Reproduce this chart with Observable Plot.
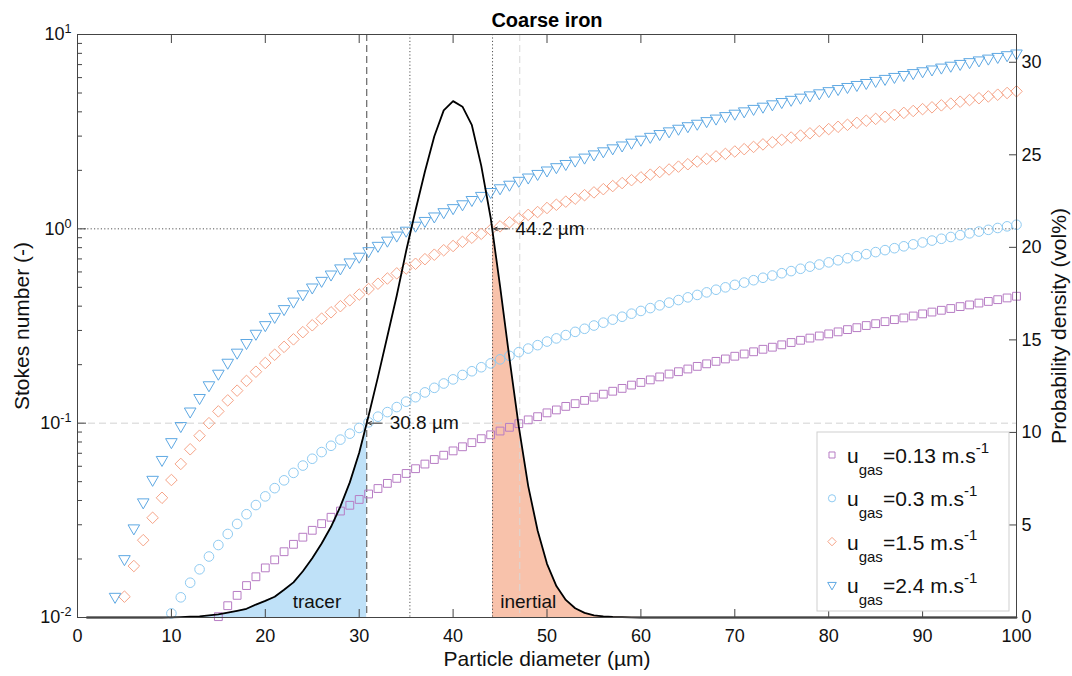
<!DOCTYPE html>
<html>
<head>
<meta charset="utf-8">
<script src="https://cdn.jsdelivr.net/npm/d3@7"></script>
<script src="https://cdn.jsdelivr.net/npm/@observablehq/plot@0.6"></script>
<style>
  html, body { margin: 0; padding: 0; background: #fff; }
  #chart { width: 1072px; height: 676px; }
</style>
</head>
<body>
<div id="chart"></div>
<script>
// ---------- data ----------
const titleText = "Coarse iron";
const xLabel = "Particle diameter (µm)";
const yLabelLeft = "Stokes number (-)";
const yLabelRight = "Probability density (vol%)";

// particle diameters of the size distribution (µm), 1..100
const diameters = d3.range(1, 101);
// probability density (vol%) at each diameter
const density = [
  0, 0, 0, 0, 0, 0, 0, 0, 0, 0.01,
  0.02, 0.04, 0.06, 0.11, 0.17, 0.26, 0.36, 0.47, 0.7, 0.9,
  1.12, 1.5, 1.9, 2.5, 3.2, 4.0, 4.9, 6.0, 7.3, 8.9,
  10.9, 13.0, 15.2, 17.4, 19.8, 22.0, 24.1, 26.0, 27.4, 27.9,
  27.6, 26.6, 24.4, 21.6, 17.9, 14.0, 10.3, 7.1, 4.7, 2.9,
  1.7, 0.95, 0.5, 0.25, 0.12, 0.06, 0.03, 0.015, 0.01, 0,
  0, 0, 0, 0, 0, 0, 0, 0, 0, 0,
  0, 0, 0, 0, 0, 0, 0, 0, 0, 0,
  0, 0, 0, 0, 0, 0, 0, 0, 0, 0,
  0, 0, 0, 0, 0, 0, 0, 0, 0, 0
];

// Stokes numbers, one marker per µm, starting at the given diameter
const startU013 = 15;
const stU013 = [
  0.0101, 0.0115, 0.013, 0.0146, 0.0162, 0.018, 0.0198, 0.0218, 0.0238, 0.0259,
  0.0281, 0.0304, 0.0328, 0.0353, 0.0378, 0.0405, 0.0432, 0.0461, 0.049, 0.052,
  0.0551, 0.0583, 0.0616, 0.065, 0.0684, 0.072, 0.0756, 0.0794, 0.0832, 0.0871,
  0.0911, 0.0952, 0.0994, 0.104, 0.108, 0.113, 0.117, 0.122, 0.126, 0.131,
  0.136, 0.141, 0.146, 0.151, 0.157, 0.162, 0.167, 0.173, 0.179, 0.184,
  0.19, 0.196, 0.202, 0.208, 0.214, 0.221, 0.227, 0.233, 0.24, 0.246,
  0.253, 0.26, 0.267, 0.274, 0.281, 0.288, 0.295, 0.303, 0.31, 0.318,
  0.325, 0.333, 0.341, 0.348, 0.356, 0.365, 0.373, 0.381, 0.389, 0.398,
  0.406, 0.415, 0.423, 0.432, 0.441, 0.45
];
const startU03 = 10;
const stU03 = [
  0.0105, 0.0127, 0.0151, 0.0177, 0.0206, 0.0236, 0.0269, 0.0303, 0.034, 0.0379,
  0.042, 0.0463, 0.0508, 0.0555, 0.0605, 0.0656, 0.071, 0.0765, 0.0823, 0.0883,
  0.0945, 0.101, 0.108, 0.114, 0.121, 0.129, 0.136, 0.144, 0.152, 0.16,
  0.168, 0.177, 0.185, 0.194, 0.203, 0.213, 0.222, 0.232, 0.242, 0.252,
  0.263, 0.273, 0.284, 0.295, 0.306, 0.318, 0.329, 0.341, 0.353, 0.366,
  0.378, 0.391, 0.404, 0.417, 0.43, 0.444, 0.457, 0.471, 0.486, 0.5,
  0.515, 0.529, 0.544, 0.56, 0.575, 0.591, 0.606, 0.623, 0.639, 0.655,
  0.672, 0.689, 0.706, 0.723, 0.741, 0.759, 0.777, 0.795, 0.813, 0.832,
  0.851, 0.87, 0.889, 0.908, 0.928, 0.948, 0.968, 0.988, 1.01, 1.03,
  1.05
];
const startU15 = 5;
const stU15 = [
  0.0128, 0.0184, 0.025, 0.0326, 0.0413, 0.051, 0.0617, 0.0734, 0.0862, 0.1,
  0.115, 0.131, 0.147, 0.165, 0.184, 0.204, 0.225, 0.247, 0.27, 0.294,
  0.319, 0.345, 0.372, 0.4, 0.429, 0.459, 0.49, 0.522, 0.555, 0.59,
  0.625, 0.661, 0.698, 0.736, 0.776, 0.816, 0.857, 0.9, 0.943, 0.987,
  1.03, 1.08, 1.13, 1.18, 1.22, 1.28, 1.33, 1.38, 1.43, 1.49,
  1.54, 1.6, 1.66, 1.72, 1.78, 1.84, 1.9, 1.96, 2.02, 2.09,
  2.15, 2.22, 2.29, 2.36, 2.43, 2.5, 2.57, 2.64, 2.72, 2.79,
  2.87, 2.95, 3.02, 3.1, 3.18, 3.26, 3.35, 3.43, 3.51, 3.6,
  3.68, 3.77, 3.86, 3.95, 4.04, 4.13, 4.22, 4.32, 4.41, 4.51,
  4.6, 4.7, 4.8, 4.9, 5.0, 5.1
];
const startU24 = 4;
const stU24 = [
  0.0128, 0.02, 0.0288, 0.0392, 0.0512, 0.0648, 0.08, 0.0968, 0.115, 0.135,
  0.157, 0.18, 0.205, 0.231, 0.259, 0.289, 0.32, 0.353, 0.387, 0.423,
  0.461, 0.5, 0.541, 0.583, 0.627, 0.673, 0.72, 0.769, 0.819, 0.871,
  0.925, 0.98, 1.04, 1.10, 1.16, 1.22, 1.28, 1.34, 1.41, 1.48,
  1.55, 1.62, 1.69, 1.77, 1.84, 1.92, 2.0, 2.08, 2.16, 2.25,
  2.33, 2.42, 2.51, 2.60, 2.69, 2.78, 2.88, 2.98, 3.08, 3.18,
  3.28, 3.38, 3.48, 3.59, 3.70, 3.81, 3.92, 4.03, 4.15, 4.26,
  4.38, 4.5, 4.62, 4.74, 4.87, 4.99, 5.12, 5.25, 5.38, 5.51,
  5.64, 5.78, 5.92, 6.06, 6.20, 6.34, 6.48, 6.62, 6.77, 6.92,
  7.07, 7.22, 7.37, 7.53, 7.68, 7.84, 8.0
];

const seriesLabels = ["0.13", "0.3", "1.5", "2.4"];

// threshold diameters (µm) and reference Stokes numbers
const tracerCut = 30.8;
const inertialCut = 44.2;
const triangleCrossing = 35.4;
const squareCrossing = 47.1;
const annotX = [30.8, 44.2];
const annotY = [0.1, 1];
const annotText = ["30.8 µm", "44.2 µm"];
const regionLabels = ["tracer", "inertial"];
const regionX = [25.5, 48.0];

// ticks
const xTicks = [0, 10, 20, 30, 40, 50, 60, 70, 80, 90, 100];
const yMajor = [0.01, 0.1, 1, 10];
const yMinor = [0.02, 0.03, 0.04, 0.05, 0.06, 0.07, 0.08, 0.09,
                0.2, 0.3, 0.4, 0.5, 0.6, 0.7, 0.8, 0.9,
                2, 3, 4, 5, 6, 7, 8, 9];
const densTicks = [0, 5, 10, 15, 20, 25, 30];
const densMax = 31.5;

// ---------- helpers ----------
const densToY = p => Math.pow(10, -2 + 3 * p / densMax);

const curve = diameters.map((d, i) => ({d, p: density[i], y: densToY(density[i])}));
function densAt(x) {
  for (let i = 0; i < diameters.length - 1; i++) {
    if (diameters[i] <= x && x <= diameters[i + 1]) {
      const t = (x - diameters[i]) / (diameters[i + 1] - diameters[i]);
      return density[i] + t * (density[i + 1] - density[i]);
    }
  }
  return 0;
}
const tracerArea = curve.filter(c => c.d < tracerCut)
  .concat([{d: tracerCut, y: densToY(densAt(tracerCut))}]);
const inertialArea = [{d: inertialCut, y: densToY(densAt(inertialCut))}]
  .concat(curve.filter(c => c.d > inertialCut));

const mk = (start, vals) => vals.map((v, i) => ({d: start + i, st: v}));
const sSquare = mk(startU013, stU013);
const sCircle = mk(startU03, stU03);
const sDiamond = mk(startU15, stU15);
const sTriangle = mk(startU24, stU24);

const annots = annotX.map((x, i) => ({x, y: annotY[i], label: annotText[i]}));
const regions = regionLabels.map((t, i) => ({x: regionX[i], t}));

const colSquare = "#b77cc4";
const colCircle = "#8fcbf2";
const colDiamond = "#f6a488";
const colTriangle = "#5ea8e3";
const fillTracer = "#bfe1f8";
const fillInertial = "#f8c2ab";
const font = "'Liberation Sans', Arial, Helvetica, sans-serif";

const plot = Plot.plot({
  width: 1072,
  height: 676,
  marginLeft: 77,
  marginRight: 56,
  marginTop: 34,
  marginBottom: 59,
  style: {fontFamily: font, fontSize: "18px", background: "#fff", color: "#111"},
  x: {domain: [0, 100]},
  y: {type: "log", domain: [0.01, 10]},
  marks: [
    // shaded regions under the size distribution
    Plot.areaY(tracerArea, {x: "d", y1: 0.01, y2: "y", fill: fillTracer}),
    Plot.areaY(inertialArea, {x: "d", y1: 0.01, y2: "y", fill: fillInertial}),
    // reference lines
    Plot.ruleY([0.1], {stroke: "#d2d2d2", strokeDasharray: "7,4", strokeWidth: 1}),
    Plot.ruleY([1], {stroke: "#555", strokeDasharray: "1.2,2.2", strokeWidth: 1}),
    Plot.ruleX([squareCrossing], {stroke: "#d8d8d8", strokeDasharray: "7,4", strokeWidth: 1}),
    Plot.ruleX([tracerCut], {stroke: "#666", strokeDasharray: "7,4", strokeWidth: 1.2}),
    Plot.ruleX([triangleCrossing, inertialCut], {stroke: "#555", strokeDasharray: "1.2,2.2", strokeWidth: 1}),
    // Stokes number series
    Plot.dot(sSquare, {x: "d", y: "st", symbol: "square", r: 4.4, stroke: colSquare, strokeWidth: 1, fill: "none"}),
    Plot.dot(sCircle, {x: "d", y: "st", symbol: "circle", r: 4.8, stroke: colCircle, strokeWidth: 1, fill: "none"}),
    Plot.dot(sDiamond, {x: "d", y: "st", symbol: "diamond2", r: 5.2, stroke: colDiamond, strokeWidth: 1, fill: "none"}),
    Plot.dot(sTriangle, {x: "d", y: "st", symbol: "triangle", rotate: 180, r: 4.3, stroke: colTriangle, strokeWidth: 1, fill: "none"}),
    // size distribution curve (right axis)
    Plot.line(curve, {x: "d", y: "y", stroke: "#000", strokeWidth: 1.8}),
    // annotations
    Plot.arrow(annots, {x1: d => d.x + 1.65, y1: "y", x2: d => d.x + 0.12, y2: "y", stroke: "#333", strokeWidth: 1, headLength: 6, headAngle: 50}),
    Plot.text(annots, {x: "x", y: "y", text: "label", textAnchor: "start", lineAnchor: "middle", dx: 23, fontSize: 19, fill: "#111"}),
    Plot.text(regions, {x: "x", text: "t", frameAnchor: "bottom", lineAnchor: "middle", dy: -16, fontSize: 19, fill: "#111"}),
    // axes: inward ticks
    Plot.axisX(xTicks, {anchor: "bottom", tickSize: -8, tickFormat: () => "", label: null, stroke: "#444"}),
    Plot.axisX(xTicks, {anchor: "top", tickSize: -8, tickFormat: () => "", label: null, stroke: "#444"}),
    Plot.axisX(xTicks, {anchor: "bottom", tickSize: 0, tickPadding: 12, label: null, fontSize: 18}),
    Plot.axisY(yMajor, {anchor: "left", tickSize: -9, tickFormat: () => "", label: null, stroke: "#444"}),
    Plot.axisY(yMinor, {anchor: "left", tickSize: -5, tickFormat: () => "", label: null, stroke: "#444"}),
    Plot.axisY(yMajor, {anchor: "left", tickSize: 0, tickPadding: 6, label: null, fontSize: 18,
      tickFormat: v => "10^" + Math.round(Math.log10(v))}),
    Plot.axisY(densTicks.map(densToY), {anchor: "right", tickSize: -8, tickFormat: () => "", label: null, stroke: "#444"}),
    Plot.text(densTicks, {y: d => densToY(d), text: d => String(d), frameAnchor: "right", textAnchor: "start", lineAnchor: "middle", dx: 5, fontSize: 18, fill: "#111"}),
    Plot.frame({stroke: "#444", strokeWidth: 1}),
    // titles
    Plot.text([titleText], {text: d => d, frameAnchor: "top", lineAnchor: "middle", dy: -14, fontSize: 20, fontWeight: "bold", fill: "#000"}),
    Plot.text([xLabel], {text: d => d, frameAnchor: "bottom", lineAnchor: "middle", dy: 42, fontSize: 21, fill: "#111"}),
    Plot.text([yLabelLeft], {text: d => d, frameAnchor: "left", textAnchor: "middle", lineAnchor: "middle", dx: -55, rotate: -90, fontSize: 21, fill: "#111"}),
    Plot.text([yLabelRight], {text: d => d, frameAnchor: "right", textAnchor: "middle", lineAnchor: "middle", dx: 43, rotate: -90, fontSize: 21, fill: "#111"})
  ]
});

document.getElementById("chart").appendChild(plot);

// superscript exponents on the log axis labels
d3.select(plot).selectAll("text").each(function () {
  const m = /^10\^(-?\d+)$/.exec(this.textContent);
  if (m) {
    const s = d3.select(this);
    s.text("");
    s.append("tspan").text("10");
    s.append("tspan").attr("dy", "-0.55em").attr("font-size", "0.7em").text(m[1]);
  }
});

// legend (inside the lower-right corner of the plot frame)
(function () {
  const svg = d3.select(plot);
  const frameRight = 1072 - 56, frameBottom = 676 - 59;
  const w = 192, h = 179;
  const x0 = frameRight - 7 - w, y0 = frameBottom - 6 - h;
  const g = svg.append("g").attr("font-family", font).attr("fill", "#111").attr("text-anchor", "start");
  g.append("rect").attr("x", x0).attr("y", y0).attr("width", w).attr("height", h)
    .attr("fill", "#fff").attr("stroke", "#cfcfcf").attr("stroke-width", 1);
  const syms = [
    {type: d3.symbolSquare, r: 3.4, color: colSquare, rot: 0},
    {type: d3.symbolCircle, r: 3.6, color: colCircle, rot: 0},
    {type: d3.symbolDiamond2, r: 3.8, color: colDiamond, rot: 0},
    {type: d3.symbolTriangle, r: 3.2, color: colTriangle, rot: 180}
  ];
  seriesLabels.forEach((lab, i) => {
    const cy = y0 + 23 + i * 43.3;
    const s = syms[i];
    g.append("path")
      .attr("d", d3.symbol(s.type, Math.PI * s.r * s.r)())
      .attr("transform", `translate(${x0 + 15},${cy}) rotate(${s.rot})`)
      .attr("fill", "none").attr("stroke", s.color).attr("stroke-width", 1);
    const t = g.append("text").attr("x", x0 + 30).attr("y", cy + 8).attr("font-size", 21).attr("text-anchor", "start");
    t.append("tspan").text("u");
    t.append("tspan").attr("dy", 12).attr("font-size", 15).text("gas");
    t.append("tspan").attr("dy", -12).text("=" + lab + " m.s");
    t.append("tspan").attr("dy", -10).attr("font-size", 15).text("-1");
  });
})();
</script>
</body>
</html>
